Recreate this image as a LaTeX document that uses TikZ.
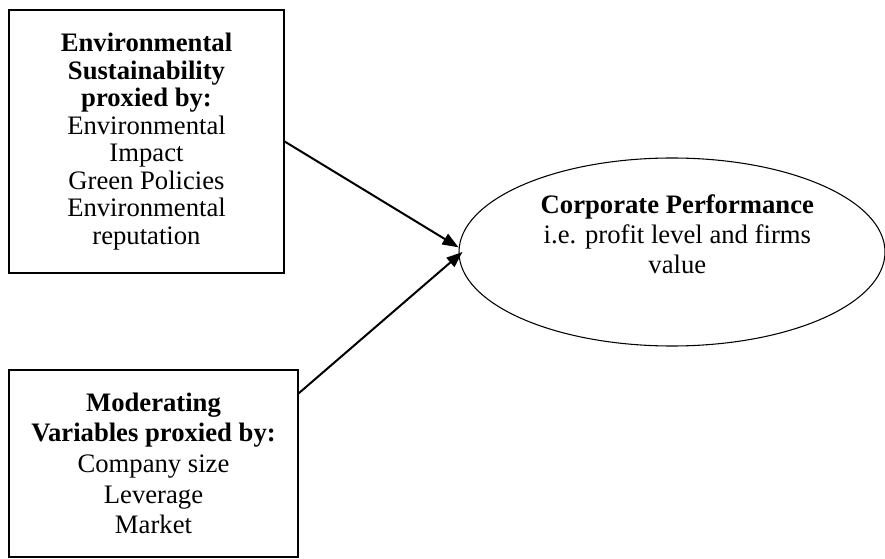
\documentclass[tikz,border=0pt]{standalone}
\usepackage{fontspec}
\setmainfont{Liberation Serif}
\usepackage{tikz}
\usetikzlibrary{calc,shapes.geometric,arrows.meta}

\begin{document}
\begin{tikzpicture}[x=0.75pt,y=-0.75pt,>={Triangle[length=12pt,width=9pt]},
  box/.style={draw,line width=1pt,align=center,inner sep=0pt,
    font=\fontsize{20}{20.6}\selectfont},
  link/.style={->,line width=1.5pt}]

\useasboundingbox (0,0) rectangle (885,559);

% Draw boxes
\node[box,minimum width=206.25pt,minimum height=197.25pt] (envbox) at (146.5,141.5)
  {\textbf{Environmental}\\ \textbf{Sustainability}\\ \textbf{proxied by:}\\
   Environmental\\ Impact\\ Green Policies\\ Environmental\\ reputation};
\node[box,minimum width=216.75pt,minimum height=140.25pt,font=\fontsize{20}{23}\selectfont] (modbox) at (153.5,463.5)
  {\textbf{Moderating}\\ \textbf{Variables proxied by:}\\ Company size\\ Leverage\\ Market};

% Draw outcome
\node[draw,ellipse,line width=0.8pt,inner sep=0pt,minimum width=319.5pt,minimum height=141pt] (perf) at (672,252) {};
\node[align=center,font=\fontsize{20}{22.5}\selectfont] (perflabel) at ([xshift=4pt,yshift=13pt]perf.center)
  {\textbf{Corporate Performance}\\ i.e. profit level and firms\\ value};

% Draw links
\draw[link] (envbox.east) -- ([yshift=3.5pt]perf.west);
\draw[link] ([yshift=-18pt]modbox.north east) -- ([xshift=3pt]perf.west);

\end{tikzpicture}
\end{document}
